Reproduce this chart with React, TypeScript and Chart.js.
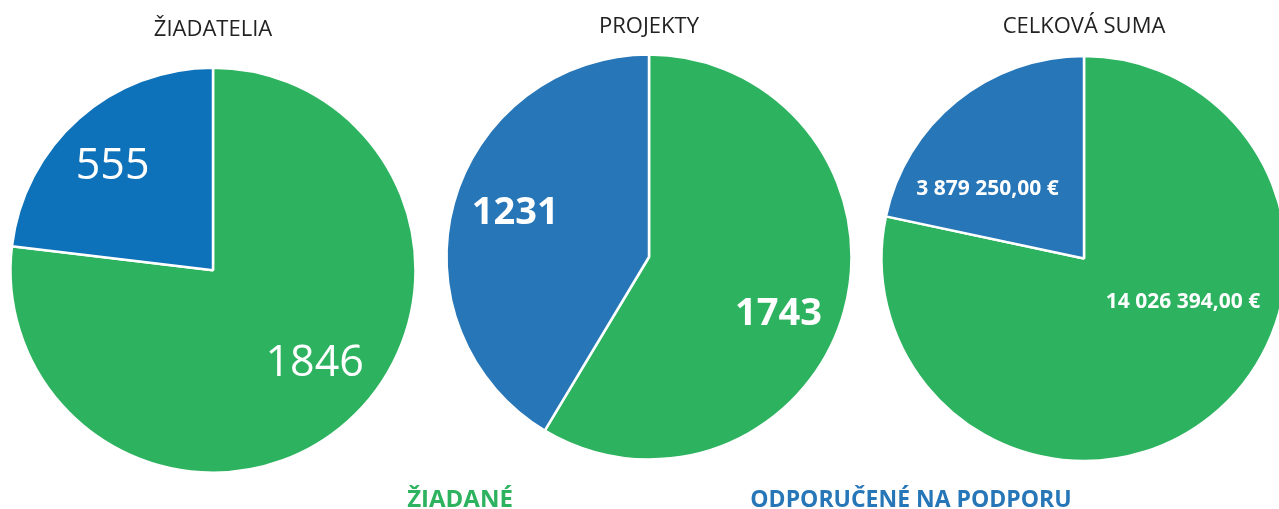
import React, { useEffect, useRef } from "react";
import { Chart, registerables } from "chart.js";

Chart.register(...registerables);

// ---- data ----
const seriesLabels = ["ŽIADANÉ", "ODPORUČENÉ NA PODPORU"];
const chartTitles = ["ŽIADATELIA", "PROJEKTY", "CELKOVÁ SUMA"];
const applicantsValues = [1846, 555];
const projectsValues = [1743, 1231];
const totalSumValues = [14026394.0, 3879250.0];

const GREEN = "#2DB35F";
const BLUE_A = "#0E72BA";
const BLUE_B = "#2777B8";
const FONT = "'Open Sans', 'DejaVu Sans', sans-serif";
const TITLE_SIZE = 22;

const fmtPlain = (v: number) => String(v);
const fmtEuro = (v: number) => {
  const [i, d] = v.toFixed(2).split(".");
  const grouped = i.replace(/\B(?=(\d{3})+(?!\d))/g, " ");
  return `${grouped},${d} €`;
};

const arcLabels = {
  id: "arcLabels",
  afterDatasetsDraw(chart: any, _args: any, opts: any) {
    const { ctx } = chart;
    const meta = chart.getDatasetMeta(0);
    const data = chart.data.datasets[0].data as number[];
    meta.data.forEach((arc: any, i: number) => {
      const { x, y, startAngle, endAngle, outerRadius } = arc.getProps(
        ["x", "y", "startAngle", "endAngle", "outerRadius"],
        true
      );
      const a = startAngle + (endAngle - startAngle) * opts.angleFrac[i];
      const r = outerRadius * opts.radiusFrac[i];
      ctx.save();
      ctx.fillStyle = "#ffffff";
      ctx.font = `${opts.weight} ${opts.size}px ${FONT}`;
      ctx.textAlign = "center";
      ctx.textBaseline = "middle";
      ctx.fillText(
        opts.format(data[i]),
        x + Math.cos(a) * r,
        y + Math.sin(a) * r + opts.size * 0.07
      );
      ctx.restore();
    });
  },
};

type PieProps = {
  title: string;
  values: number[];
  blue: string;
  left: number;
  titleTop: number;
  padBottom: number;
  radius: number;
  labelOpts: any;
};

function Pie({ title, values, blue, left, titleTop, padBottom, radius, labelOpts }: PieProps) {
  const ref = useRef<HTMLCanvasElement | null>(null);
  useEffect(() => {
    if (!ref.current) return;
    const chart = new Chart(ref.current, {
      type: "pie",
      data: {
        labels: seriesLabels,
        datasets: [
          {
            data: values,
            backgroundColor: [GREEN, blue],
            borderColor: "#ffffff",
            borderWidth: 2.5,
          },
        ],
      },
      options: {
        responsive: false,
        animation: false,
        radius,
        layout: { padding: { top: 0, bottom: padBottom, left: 0, right: 0 } },
        plugins: {
          legend: { display: false },
          tooltip: { enabled: false },
          title: {
            display: true,
            text: title,
            color: "#222222",
            font: { family: FONT, size: TITLE_SIZE, weight: "normal", lineHeight: 1.2 },
            padding: { top: titleTop, bottom: 0 },
          },
          arcLabels: labelOpts,
        } as any,
      },
      plugins: [arcLabels],
    });
    return () => chart.destroy();
  }, []);
  return (
    <canvas
      ref={ref}
      width={440}
      height={509}
      style={{ position: "absolute", left, top: 0, width: 440, height: 509 }}
    />
  );
}

export default function App() {
  return (
    <div
      style={{
        position: "fixed",
        left: 0,
        top: 0,
        width: 1279,
        height: 509,
        overflow: "hidden",
        background: "#ffffff",
      }}
    >
      <Pie
        title={chartTitles[0]}
        values={applicantsValues}
        blue={BLUE_A}
        left={213 - 220}
        titleTop={17}
        padBottom={12}
        radius={202.5}
        labelOpts={{ angleFrac: [0.476, 0.48], radiusFrac: [0.673, 0.723], size: 43, weight: "normal", format: fmtPlain }}
      />
      <Pie
        title={chartTitles[1]}
        values={projectsValues}
        blue={BLUE_B}
        left={649 - 220}
        titleTop={14}
        padBottom={35.4}
        radius={202.5}
        labelOpts={{ angleFrac: [0.535, 0.525], radiusFrac: [0.694, 0.7], size: 38, weight: "bold", format: fmtPlain }}
      />
      <Pie
        title={chartTitles[2]}
        values={totalSumValues}
        blue={BLUE_B}
        left={1084 - 220}
        titleTop={14}
        padBottom={32.4}
        radius={202.5}
        labelOpts={{ angleFrac: [0.4, 0.31], radiusFrac: [0.53, 0.59], size: 21, weight: "bold", format: fmtEuro }}
      />
      <div
        style={{
          position: "absolute",
          left: 460 - 150,
          top: 486,
          width: 300,
          textAlign: "center",
          fontFamily: FONT,
          fontWeight: 700,
          fontSize: 24,
          lineHeight: "24px",
          color: GREEN,
          whiteSpace: "nowrap",
        }}
      >
        {seriesLabels[0]}
      </div>
      <div
        style={{
          position: "absolute",
          left: 911 - 250,
          top: 486,
          width: 500,
          textAlign: "center",
          fontFamily: FONT,
          fontWeight: 700,
          fontSize: 23,
          lineHeight: "24px",
          color: BLUE_B,
          whiteSpace: "nowrap",
        }}
      >
        {seriesLabels[1]}
      </div>
    </div>
  );
}
